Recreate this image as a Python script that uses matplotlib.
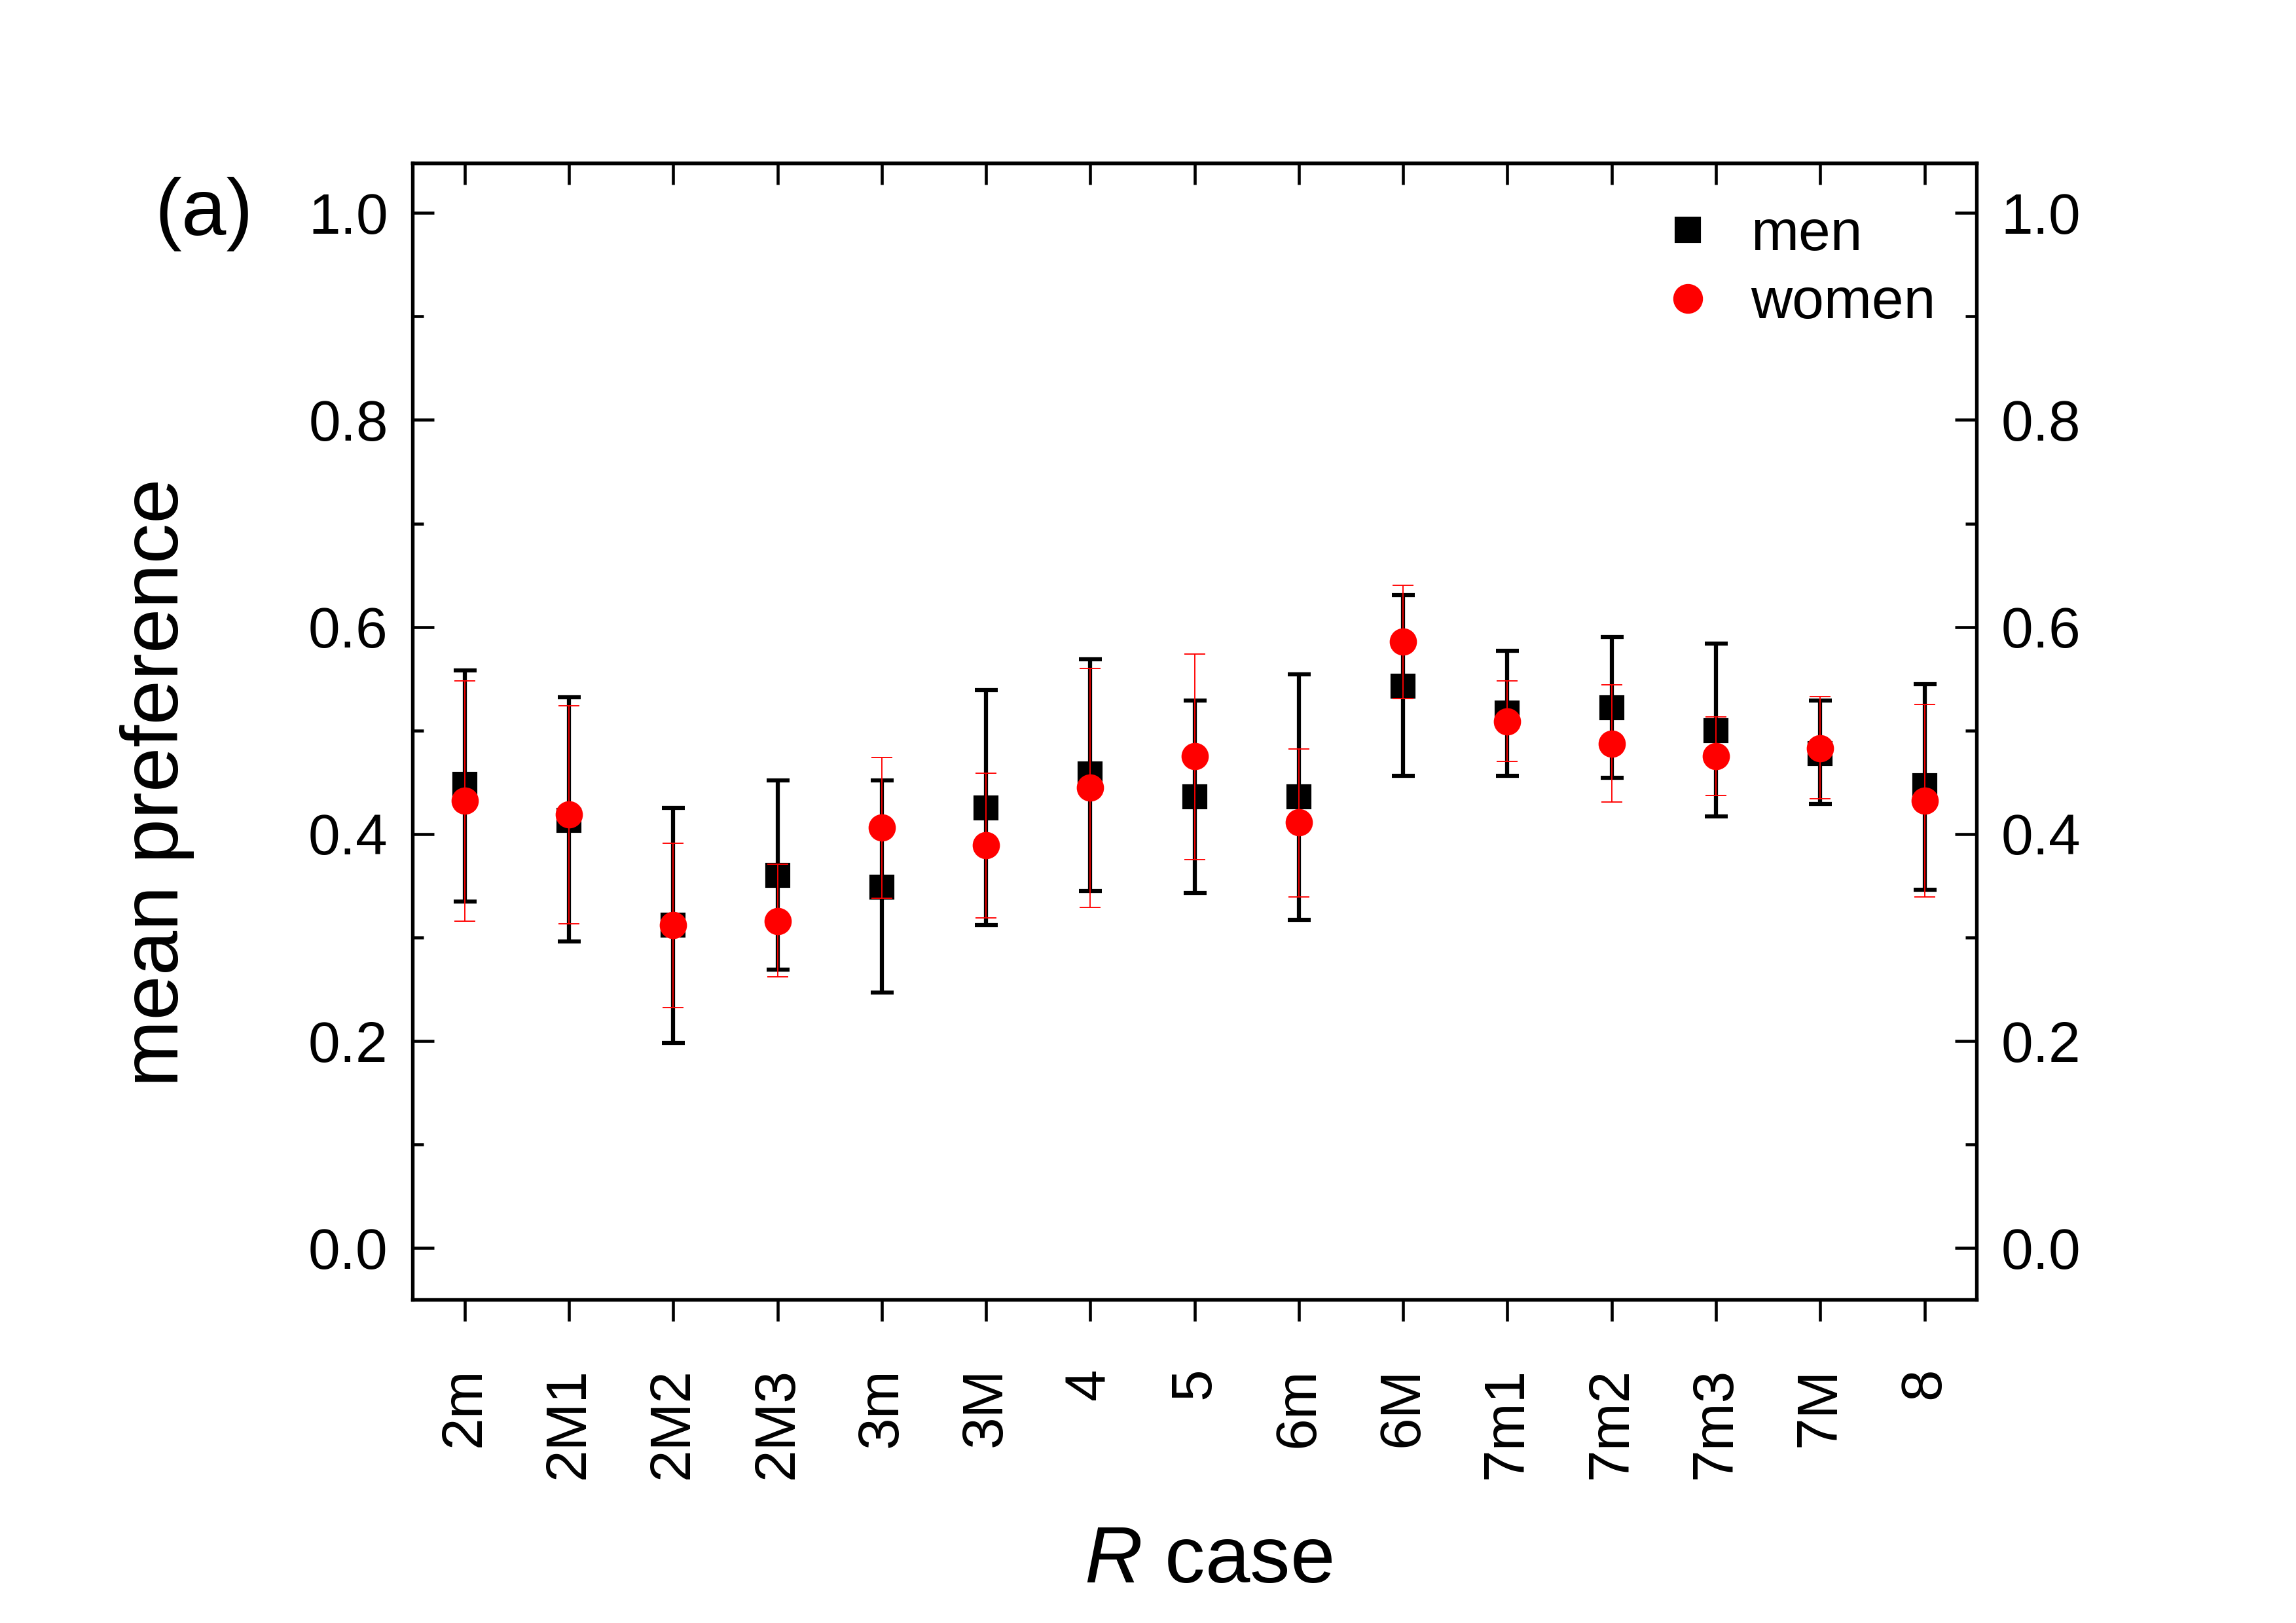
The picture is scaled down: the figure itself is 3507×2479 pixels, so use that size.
import matplotlib
matplotlib.use("Agg")
import matplotlib.pyplot as plt
from matplotlib.ticker import MultipleLocator
import numpy as np

categories = ['2m', '2M1', '2M2', '2M3', '3m', '3M', '4', '5', '6m', '6M',
              '7m1', '7m2', '7m3', '7M', '8']
men_mean = [0.448, 0.413, 0.312, 0.360, 0.349, 0.425, 0.458, 0.436, 0.436, 0.543,
            0.517, 0.522, 0.500, 0.478, 0.447]
men_hi = [0.558, 0.532, 0.425, 0.452, 0.452, 0.539, 0.569, 0.529, 0.554, 0.631,
          0.577, 0.590, 0.584, 0.529, 0.545]
men_lo = [0.335, 0.296, 0.198, 0.269, 0.247, 0.312, 0.345, 0.343, 0.317, 0.456,
          0.456, 0.454, 0.417, 0.429, 0.346]
women_mean = [0.432, 0.419, 0.312, 0.316, 0.406, 0.389, 0.445, 0.475, 0.411, 0.586,
              0.509, 0.487, 0.475, 0.483, 0.432]
women_hi = [0.548, 0.524, 0.391, 0.371, 0.474, 0.459, 0.560, 0.574, 0.482, 0.640,
            0.548, 0.544, 0.513, 0.533, 0.525]
women_lo = [0.316, 0.313, 0.232, 0.262, 0.338, 0.319, 0.329, 0.375, 0.339, 0.531,
            0.470, 0.431, 0.437, 0.434, 0.339]

plt.rcParams['font.family'] = ['Liberation Sans', 'DejaVu Sans']
plt.rcParams['mathtext.fontset'] = 'custom'
plt.rcParams['mathtext.it'] = 'Liberation Sans:italic'
plt.rcParams['mathtext.rm'] = 'Liberation Sans'

fig = plt.figure(figsize=(3507 / 300, 2479 / 300), dpi=300)
ax = fig.add_axes([0.1797, 0.1994, 0.6812, 0.7000])

x = np.arange(len(categories))
mm = np.array(men_mean); wm = np.array(women_mean)
men_err = [mm - np.array(men_lo), np.array(men_hi) - mm]
women_err = [wm - np.array(women_lo), np.array(women_hi) - wm]

ax.errorbar(x, mm, yerr=men_err, fmt='none', ecolor='black', elinewidth=1.5,
            capsize=4.2, capthick=1.5, zorder=2)
ax.plot(x, mm, 's', color='black', ms=8, zorder=3)
ax.plot(x, wm, 'o', color='#ff0000', ms=9, zorder=4)
ax.errorbar(x, wm, yerr=women_err, fmt='none', ecolor='#ff0000', elinewidth=0.45,
            capsize=3.8, capthick=0.45, zorder=5)

ax.set_xlim(-0.5, len(categories) - 0.5)
ax.set_ylim(-0.0496, 1.048)
ax.set_xticks(x)
ax.set_xticklabels(categories, rotation=90, fontsize=21)
ax.yaxis.set_major_locator(MultipleLocator(0.2))
ax.yaxis.set_minor_locator(MultipleLocator(0.1))
ax.yaxis.set_major_formatter(plt.FormatStrFormatter('%.1f'))

for s in ax.spines.values():
    s.set_linewidth(1.3)

ax.tick_params(axis='x', which='major', direction='out', length=8, width=1.1,
               pad=17, top=False, bottom=True)
ax.tick_params(axis='y', which='major', direction='in', length=8, width=1.1,
               left=True, right=True, labelleft=True, labelright=True,
               labelsize=21, pad=9)
ax.tick_params(axis='y', which='minor', direction='in', length=4, width=1.1,
               left=True, right=True)

# top inward ticks
axt = ax.secondary_xaxis('top')
axt.set_xticks(x)
axt.tick_params(axis='x', direction='in', length=8, width=1.1, labeltop=False)
axt.spines['top'].set_linewidth(1.3)

h1, = ax.plot([], [], 's', color='black', ms=8)
h2, = ax.plot([], [], 'o', color='#ff0000', ms=9)
ax.legend([h1, h2], ['men', 'women'], loc='upper left', bbox_to_anchor=(0.797, 0.960),
          frameon=False, fontsize=21, borderaxespad=0, borderpad=0,
          handlelength=1.0, handletextpad=0.6, labelspacing=0.27, markerscale=1.1)

fig.text(0.0685, 0.518, 'mean preference', rotation=90, ha='center', va='center',
         fontsize=29.5)
fig.text(0.5262, 0.038, r'$\mathit{R}$ case', ha='center', va='center', fontsize=29.5)
fig.text(0.0887, 0.868, '(a)', ha='center', va='center', fontsize=29.5)

fig.savefig('out.png', dpi=300)
